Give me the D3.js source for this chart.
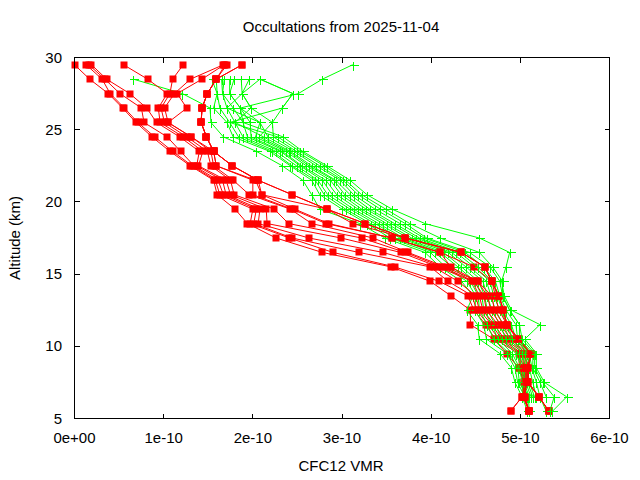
<!DOCTYPE html>
<html>
<head>
<meta charset="utf-8">
<script src="https://cdn.jsdelivr.net/npm/d3@7"></script>
<style>
  body { margin: 0; background: #fff; }
  text { font-family: "Liberation Sans", Arial, sans-serif; font-size: 15px; fill: #000; }
</style>
</head>
<body>
<svg id="chart" width="640" height="480"></svg>
<script>
// altitude levels (km), top to bottom
const altitudes = [29.5, 28.5, 27.5, 26.5, 25.5, 24.5, 23.5, 22.5, 21.5, 20.5, 19.5, 18.5, 17.5,
  16.5, 15.5, 14.5, 13.5, 12.5, 11.5, 10.5, 9.5, 8.5, 7.5, 6.5, 5.5];

// VMR in units of 1e-10, one row per altitude, one column per occultation
const unit = 1e-10;
const redRows = [
  [0.00, 0.13, 0.16, 0.19, 0.55, 1.22, 1.67, 1.68, 1.69, 1.71, 1.88, 1.88],
  [0.17, 0.31, 0.34, 0.36, 0.82, 1.10, 1.30, 1.43, 1.59, 1.59, 1.59, 1.59],
  [0.38, 0.40, 0.51, 0.62, 1.04, 1.07, 1.12, 1.15, 1.49, 1.49, 1.49, 1.49],
  [0.54, 0.56, 0.75, 0.81, 0.94, 0.97, 1.01, 1.26, 1.43, 1.43, 1.43, 1.43],
  [0.69, 0.71, 0.78, 0.92, 0.96, 1.01, 1.05, 1.05, 1.42, 1.42, 1.42, 1.42],
  [0.87, 0.90, 1.04, 1.18, 1.22, 1.26, 1.31, 1.31, 1.48, 1.48, 1.48, 1.48],
  [1.07, 1.10, 1.19, 1.40, 1.44, 1.49, 1.53, 1.56, 1.56, 1.56, 1.56, 1.56],
  [1.30, 1.32, 1.34, 1.37, 1.39, 1.53, 1.56, 1.59, 1.59, 1.77, 1.77, 1.77],
  [1.56, 1.58, 1.61, 1.66, 1.70, 1.75, 1.78, 2.00, 2.03, 2.06, 2.06, 2.06],
  [1.60, 1.63, 1.67, 1.70, 1.75, 1.79, 1.96, 2.00, 2.10, 2.10, 2.44, 2.44],
  [1.80, 2.00, 2.04, 2.08, 2.15, 2.24, 2.42, 2.44, 2.47, 2.83, 2.83, 2.83],
  [1.94, 1.97, 2.01, 2.06, 2.16, 2.40, 2.66, 2.82, 2.85, 3.12, 3.26, 3.26],
  [2.26, 2.41, 2.44, 2.63, 2.99, 3.22, 3.35, 3.56, 3.56, 3.71, 3.71, 3.71],
  [2.78, 2.90, 3.19, 3.46, 3.66, 3.71, 3.74, 4.10, 4.10, 4.34, 4.34, 4.34],
  [3.55, 3.59, 3.99, 4.03, 4.08, 4.12, 4.16, 4.22, 4.48, 4.60, 4.60, 4.60],
  [3.99, 4.09, 4.19, 4.30, 4.46, 4.48, 4.52, 4.52, 4.68, 4.68, 4.68, 4.68],
  [4.22, 4.41, 4.46, 4.50, 4.54, 4.59, 4.63, 4.68, 4.72, 4.76, 4.76, 4.76],
  [4.44, 4.48, 4.51, 4.54, 4.58, 4.62, 4.67, 4.71, 4.76, 4.81, 4.81, 4.81],
  [4.44, 4.61, 4.64, 4.68, 4.71, 4.75, 4.78, 4.81, 4.85, 4.85, 4.85, 4.85],
  [4.70, 4.72, 4.76, 4.79, 4.82, 4.86, 4.89, 4.93, 4.96, 4.98, 4.98, 4.98],
  [4.85, 4.98, 5.00, 5.02, 5.05, 5.07, 5.09, 5.12, 5.12, 5.12, 5.12, 5.12],
  [4.98, 4.99, 5.00, 5.02, 5.03, 5.04, 5.05, 5.06, 5.07, 5.08, 5.09, 5.09],
  [5.04, 5.04, 5.05, 5.05, 5.06, 5.06, 5.07, 5.07, 5.08, 5.08, 5.09, 5.09],
  [5.02, 5.02, 5.03, 5.03, 5.04, 5.04, 5.05, 5.05, 5.21, 5.21, 5.21, 5.21],
  [4.89, 4.89, 5.10, 5.10, 5.10, 5.10, 5.10, 5.10, 5.32, 5.32, 5.32, 5.32]
];
const greenRows = [
  [null, null, null, null, null, null, null, null, null, null, null, null, 3.12],
  [0.66, 1.54, 1.59, 1.65, 1.68, 1.74, 1.79, 1.87, 1.96, 2.08, 2.08, 2.08, 2.78],
  [1.21, 1.60, 1.60, 1.66, 1.66, 1.74, 1.74, 1.88, 1.88, 1.88, 2.45, 2.45, 2.51],
  [1.52, 1.56, 1.63, 1.71, 1.78, 1.86, 1.86, 1.98, 1.98, 1.71, 2.33, 2.33, 1.86],
  [1.53, 1.71, 1.74, 1.80, 1.89, 1.97, 2.08, 2.22, 1.80, 2.08, 2.22, 1.74, 1.89],
  [1.67, 1.78, 1.84, 1.89, 1.94, 1.98, 2.03, 2.07, 2.12, 2.17, 2.23, 2.28, 2.34],
  [2.04, 2.19, 2.22, 2.26, 2.31, 2.33, 2.37, 2.40, 2.42, 2.46, 2.49, 2.53, 2.56],
  [2.33, 2.42, 2.44, 2.49, 2.53, 2.55, 2.60, 2.63, 2.66, 2.71, 2.75, 2.80, 2.83],
  [2.56, 2.66, 2.70, 2.73, 2.78, 2.82, 2.87, 2.91, 2.93, 2.98, 3.01, 3.04, 3.09],
  [2.66, 2.75, 2.80, 2.84, 2.89, 2.94, 2.99, 3.03, 3.09, 3.13, 3.18, 3.22, 3.28],
  [2.75, 3.00, 3.04, 3.09, 3.13, 3.18, 3.22, 3.27, 3.31, 3.37, 3.43, 3.49, 3.56],
  [3.20, 3.28, 3.32, 3.37, 3.41, 3.46, 3.50, 3.55, 3.59, 3.65, 3.71, 3.76, 3.93],
  [3.48, 3.54, 3.59, 3.65, 3.69, 3.74, 3.78, 3.83, 3.87, 3.92, 3.95, 4.10, 4.54],
  [3.93, 3.99, 4.04, 4.10, 4.14, 4.19, 4.23, 4.28, 4.32, 4.38, 4.43, 4.54, 4.88],
  [4.10, 4.16, 4.23, 4.30, 4.34, 4.39, 4.43, 4.48, 4.52, 4.59, 4.66, 4.69, 4.84],
  [4.34, 4.40, 4.44, 4.49, 4.53, 4.58, 4.62, 4.66, 4.69, 4.72, 4.77, 4.80, 4.79],
  [4.47, 4.50, 4.53, 4.57, 4.60, 4.63, 4.67, 4.70, 4.74, 4.77, 4.80, 4.80, 4.82],
  [4.40, 4.49, 4.54, 4.59, 4.63, 4.68, 4.72, 4.77, 4.80, 4.84, 4.88, 4.88, 4.90],
  [4.52, 4.59, 4.63, 4.68, 4.72, 4.77, 4.81, 4.86, 4.90, 4.95, 4.99, 4.99, 5.22],
  [4.54, 4.62, 4.70, 4.75, 4.79, 4.84, 4.88, 4.91, 4.95, 4.97, 4.99, 5.02, 5.05],
  [4.77, 4.85, 4.88, 4.91, 4.95, 4.98, 5.02, 5.05, 5.08, 5.10, 5.14, 5.16, 5.18],
  [4.90, 4.94, 4.97, 4.99, 5.02, 5.04, 5.06, 5.08, 5.10, 5.13, 5.14, 5.16, 5.18],
  [4.94, 4.97, 4.99, 5.02, 5.04, 5.06, 5.08, 5.10, 5.14, 5.18, 5.22, 5.25, 5.27],
  [5.02, 5.05, 5.07, 5.09, 5.10, 5.12, 5.14, 5.16, 5.18, 5.22, 5.29, 5.38, 5.52],
  [5.08, null, null, 5.10, null, null, null, null, null, 5.29, null, 5.33, 5.36]
];

const xTicks = [0, 1e-10, 2e-10, 3e-10, 4e-10, 5e-10, 6e-10];
const xTickLabels = ["0e+00", "1e-10", "2e-10", "3e-10", "4e-10", "5e-10", "6e-10"];
const yTicks = [5, 10, 15, 20, 25, 30];

const svg = d3.select("#chart");
const margin = {left: 74.5, right: 609.5, top: 57.5, bottom: 418.5};

const x = d3.scaleLinear().domain([0, 6e-10]).range([margin.left, margin.right]);
const y = d3.scaleLinear().domain([5, 30]).range([margin.bottom, margin.top]);

// turn the rows into one profile per occultation
function profiles(rows) {
  const n = rows[0].length;
  return d3.range(n).map(i =>
    altitudes.map((a, r) => ({alt: a, v: rows[r][i]}))
      .filter(d => d.v != null)
      .map(d => ({alt: d.alt, v: d.v * unit})));
}
const red = profiles(redRows);
const green = profiles(greenRows);

const line = d3.line().x(d => x(d.v)).y(d => y(d.alt));
const plot = svg.append("g");

function drawRed(p) {
  plot.append("path").datum(p)
    .attr("d", line).attr("fill", "none")
    .attr("stroke", "#ff0000").attr("stroke-width", 1);
  plot.selectAll(null).data(p).enter().append("rect")
    .attr("x", d => Math.round(x(d.v)) - 3.5)
    .attr("y", d => Math.round(y(d.alt)) - 3.5)
    .attr("width", 7).attr("height", 7)
    .attr("fill", "#ff0000");
}
function drawGreen(p) {
  plot.append("path").datum(p)
    .attr("d", line).attr("fill", "none")
    .attr("stroke", "#00ff00").attr("stroke-width", 1);
  plot.selectAll(null).data(p).enter().append("path")
    .attr("d", d => {
      const cx = Math.round(x(d.v)) + 0.5, cy = Math.round(y(d.alt)) + 0.5;
      return `M${cx - 4},${cy}H${cx + 5}M${cx},${cy - 4}V${cy + 5}`;
    })
    .attr("stroke", "#00ff00").attr("stroke-width", 1)
    .attr("shape-rendering", "crispEdges");
}
// gnuplot draws the files one after another
d3.range(Math.max(red.length, green.length)).forEach(i => {
  if (red[i]) drawRed(red[i]);
  if (green[i]) drawGreen(green[i]);
});

// frame and ticks, mirrored on all sides
const frame = svg.append("g").attr("shape-rendering", "crispEdges");
frame.append("rect")
  .attr("x", margin.left).attr("y", margin.top)
  .attr("width", margin.right - margin.left).attr("height", margin.bottom - margin.top)
  .attr("fill", "none").attr("stroke", "#000");

xTicks.forEach((t, i) => {
  frame.append("line").attr("x1", x(t)).attr("x2", x(t))
    .attr("y1", margin.bottom).attr("y2", margin.bottom - 5).attr("stroke", "#000");
  frame.append("line").attr("x1", x(t)).attr("x2", x(t))
    .attr("y1", margin.top).attr("y2", margin.top + 5).attr("stroke", "#000");
  svg.append("text").attr("x", x(t)).attr("y", 443)
    .attr("text-anchor", "middle").text(xTickLabels[i]);
});
yTicks.forEach(t => {
  frame.append("line").attr("x1", margin.left).attr("x2", margin.left + 5)
    .attr("y1", y(t)).attr("y2", y(t)).attr("stroke", "#000");
  frame.append("line").attr("x1", margin.right).attr("x2", margin.right - 5)
    .attr("y1", y(t)).attr("y2", y(t)).attr("stroke", "#000");
  svg.append("text").attr("x", 62).attr("y", y(t) + 5)
    .attr("text-anchor", "end").text(t);
});

svg.append("text").attr("x", 341).attr("y", 32)
  .attr("text-anchor", "middle").text("Occultations from 2025-11-04");
svg.append("text").attr("x", 341).attr("y", 471)
  .attr("text-anchor", "middle").text("CFC12 VMR");
svg.append("text")
  .attr("transform", `translate(20,${(margin.top + margin.bottom) / 2}) rotate(-90)`)
  .attr("text-anchor", "middle").text("Altitude (km)");
</script>
</body>
</html>
